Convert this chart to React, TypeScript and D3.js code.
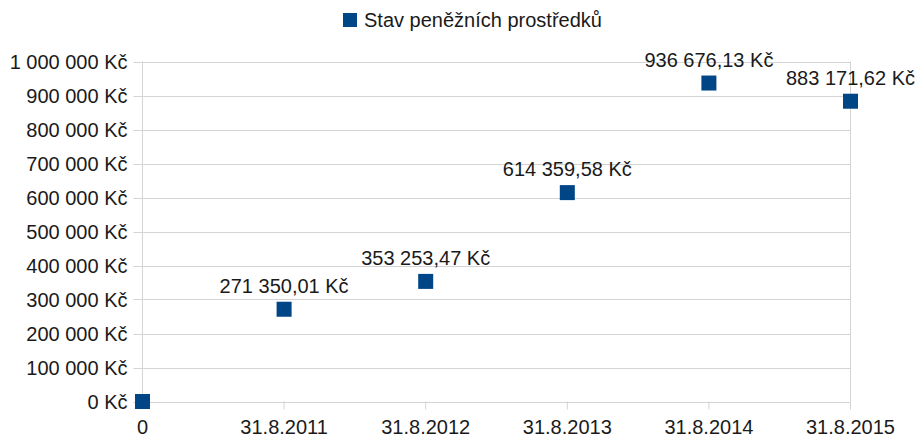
import * as d3 from 'd3';
import { useEffect, useRef } from 'react';

const categories = ['0', '31.8.2011', '31.8.2012', '31.8.2013', '31.8.2014', '31.8.2015'];
const balances = [0, 271350.01, 353253.47, 614359.58, 936676.13, 883171.62];
const yTicks = [0, 100000, 200000, 300000, 400000, 500000, 600000, 700000, 800000, 900000, 1000000];
const seriesName = 'Stav peněžních prostředků';

const czk = d3.formatLocale({
  decimal: ',',
  thousands: ' ',
  grouping: [3],
  currency: ['', ' Kč'],
});

export default function App() {
  const svgRef = useRef<SVGSVGElement>(null);

  useEffect(() => {
    const svg = d3.select(svgRef.current);
    svg.selectAll('*').remove();

    const left = 142.5;
    const right = 850.5;
    const top = 61.5;
    const bottom = 401.5;
    const font = '"Liberation Sans", Arial, sans-serif';
    const fs = 20;
    const blue = '#004586';
    const grid = '#d4d4d4';
    const ink = '#1a1a1a';

    const x = d3.scalePoint<string>().domain(categories).range([left, right]).padding(0);
    const y = d3.scaleLinear().domain([0, 1000000]).range([bottom, top]);

    // gridlines
    svg.append('g')
      .selectAll('line')
      .data(yTicks)
      .join('line')
      .attr('x1', left - 9).attr('x2', right)
      .attr('y1', d => Math.round(y(d)) + 0.5).attr('y2', d => Math.round(y(d)) + 0.5)
      .attr('stroke', grid);

    // axis lines
    svg.append('line')
      .attr('x1', left).attr('x2', left)
      .attr('y1', top).attr('y2', bottom)
      .attr('stroke', grid);
    svg.append('line')
      .attr('x1', right).attr('x2', right)
      .attr('y1', top).attr('y2', bottom)
      .attr('stroke', grid);

    // x ticks
    svg.append('g')
      .selectAll('line')
      .data(categories.slice(1))
      .join('line')
      .attr('x1', d => x(d)!).attr('x2', d => x(d)!)
      .attr('y1', bottom).attr('y2', bottom + 8)
      .attr('stroke', grid);

    // y labels
    const fmtTick = czk.format('$,.0f');
    svg.append('g')
      .selectAll('text')
      .data(yTicks)
      .join('text')
      .attr('x', left - 15)
      .attr('y', d => y(d))
      .attr('dy', '0.35em')
      .attr('text-anchor', 'end')
      .attr('font-family', font)
      .attr('font-size', fs)
      .attr('fill', ink)
      .text(d => fmtTick(d));

    // x labels
    svg.append('g')
      .selectAll('text')
      .data(categories)
      .join('text')
      .attr('x', d => x(d)!)
      .attr('y', 434)
      .attr('text-anchor', 'middle')
      .attr('font-family', font)
      .attr('font-size', fs)
      .attr('fill', ink)
      .text(d => d);

    const pts = categories.map((c, i) => ({ c, v: balances[i] }));
    const size = 15;

    svg.append('g')
      .selectAll('rect')
      .data(pts)
      .join('rect')
      .attr('x', d => x(d.c)! - size / 2)
      .attr('y', d => y(d.v) - size / 2)
      .attr('width', size)
      .attr('height', size)
      .attr('fill', blue);

    // data labels (none for the zero start point)
    const fmtVal = czk.format('$,.2f');
    svg.append('g')
      .selectAll('text')
      .data(pts.filter(d => d.v > 0))
      .join('text')
      .attr('x', d => x(d.c)!)
      .attr('y', d => y(d.v) - 16.5)
      .attr('text-anchor', 'middle')
      .attr('font-family', font)
      .attr('font-size', fs)
      .attr('fill', ink)
      .text(d => fmtVal(d.v));

    // legend
    svg.append('rect')
      .attr('x', 343).attr('y', 13)
      .attr('width', 14).attr('height', 14)
      .attr('fill', blue);
    svg.append('text')
      .attr('x', 364).attr('y', 27)
      .attr('font-family', font)
      .attr('font-size', fs)
      .attr('fill', ink)
      .text(seriesName);
  }, []);

  return (
    <svg
      ref={svgRef}
      width={918}
      height={437}
      style={{ position: 'absolute', left: 0, top: 0, background: '#fff' }}
    />
  );
}
